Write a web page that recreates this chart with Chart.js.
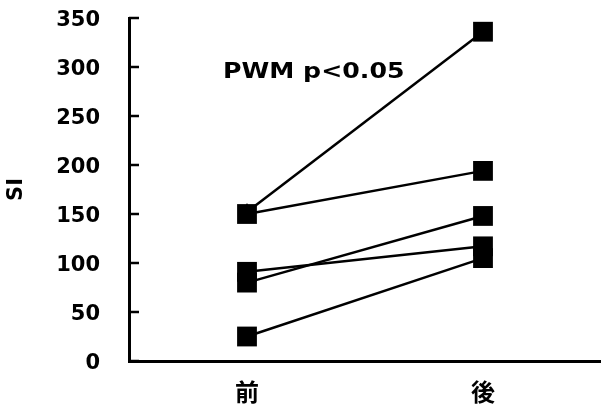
<!DOCTYPE html>
<html>
<head>
<meta charset="utf-8">
<script src="https://cdn.jsdelivr.net/npm/chart.js@4"></script>
<style>
  html, body { margin: 0; padding: 0; background: #fff; }
  #wrap { width: 601px; height: 418px; }
</style>
</head>
<body>
<div id="wrap"><canvas id="c" width="601" height="418"></canvas></div>
<script>
  // categories + paired values
  var categories = ['前', '後'];
  var subjectA = [152, 336];
  var subjectB = [150, 194];
  var subjectC = [80, 148];
  var subjectD = [91, 117];
  var subjectE = [25, 105];
  var yTicks = [0, 50, 100, 150, 200, 250, 300, 350];
  var noteText = 'PWM p<0.05';

  var FONT = "'DejaVu Sans', sans-serif";
  var CJK = "'Noto Sans CJK JP', 'Noto Sans CJK SC', sans-serif";

  function series(vals, styles, radius) {
    return {
      data: vals,
      borderColor: '#000',
      borderWidth: 2.5,
      backgroundColor: '#000',
      pointBackgroundColor: '#000',
      pointBorderColor: '#000',
      pointBorderWidth: 0,
      pointStyle: styles || 'rect',
      pointRadius: radius || 14,
      tension: 0
    };
  }

  // inward ticks on the y axis + the note text
  var extras = {
    id: 'extras',
    afterDraw: function(chart) {
      var ctx = chart.ctx, y = chart.scales.y, x = chart.scales.x;
      ctx.save();
      ctx.strokeStyle = '#000';
      ctx.lineWidth = 2.5;
      yTicks.forEach(function(v) {
        var py = Math.round(y.getPixelForValue(v));
        ctx.beginPath();
        ctx.moveTo(y.right, py);
        ctx.lineTo(y.right + 10, py);
        ctx.stroke();
      });
      ctx.fillStyle = '#000';
      ctx.font = 'bold 21px ' + FONT;
      ctx.textBaseline = 'middle';
      ctx.textAlign = 'left';
      var tx = x.getPixelForValue(0) - 24, ty = y.getPixelForValue(294);
      ctx.translate(tx, ty);
      ctx.scale(1.2, 1);
      ctx.fillText(noteText, 0, 0);
      ctx.restore();
    }
  };

  new Chart(document.getElementById('c'), {
    type: 'line',
    data: {
      labels: categories,
      datasets: [
        series(subjectA, ['triangle', 'rect'], [9, 14]),
        series(subjectB),
        series(subjectC),
        series(subjectD),
        series(subjectE)
      ]
    },
    options: {
      responsive: false,
      animation: false,
      events: [],
      layout: { autoPadding: false, padding: { left: 0, right: 0, top: 18, bottom: 0 } },
      plugins: { legend: { display: false }, tooltip: { enabled: false } },
      scales: {
        x: {
          offset: true,
          grid: { display: false, drawTicks: false },
          border: { display: true, color: '#000', width: 3 },
          ticks: { color: '#000', padding: 16, font: { family: CJK, size: 24, weight: 'bold' } },
          afterFit: function(s) { s.height = 57; s.paddingLeft = 0; s.paddingRight = 0; }
        },
        y: {
          min: 0, max: 350,
          afterBuildTicks: function(s) { s.ticks = yTicks.map(function(v) { return { value: v }; }); },
          grid: { display: false, drawTicks: false },
          border: { display: true, color: '#000', width: 3 },
          ticks: { color: '#000', padding: 29, labelOffset: 3, font: { family: FONT, size: 21, weight: 'bold' } },
          title: { display: true, text: 'SI', color: '#000', padding: { top: 4, bottom: 0 }, font: { family: FONT, size: 21, weight: 'bold' } },
          afterFit: function(s) { s.width = 129; s.paddingTop = 0; s.paddingBottom = 0; }
        }
      }
    },
    plugins: [extras]
  });
</script>
</body>
</html>
